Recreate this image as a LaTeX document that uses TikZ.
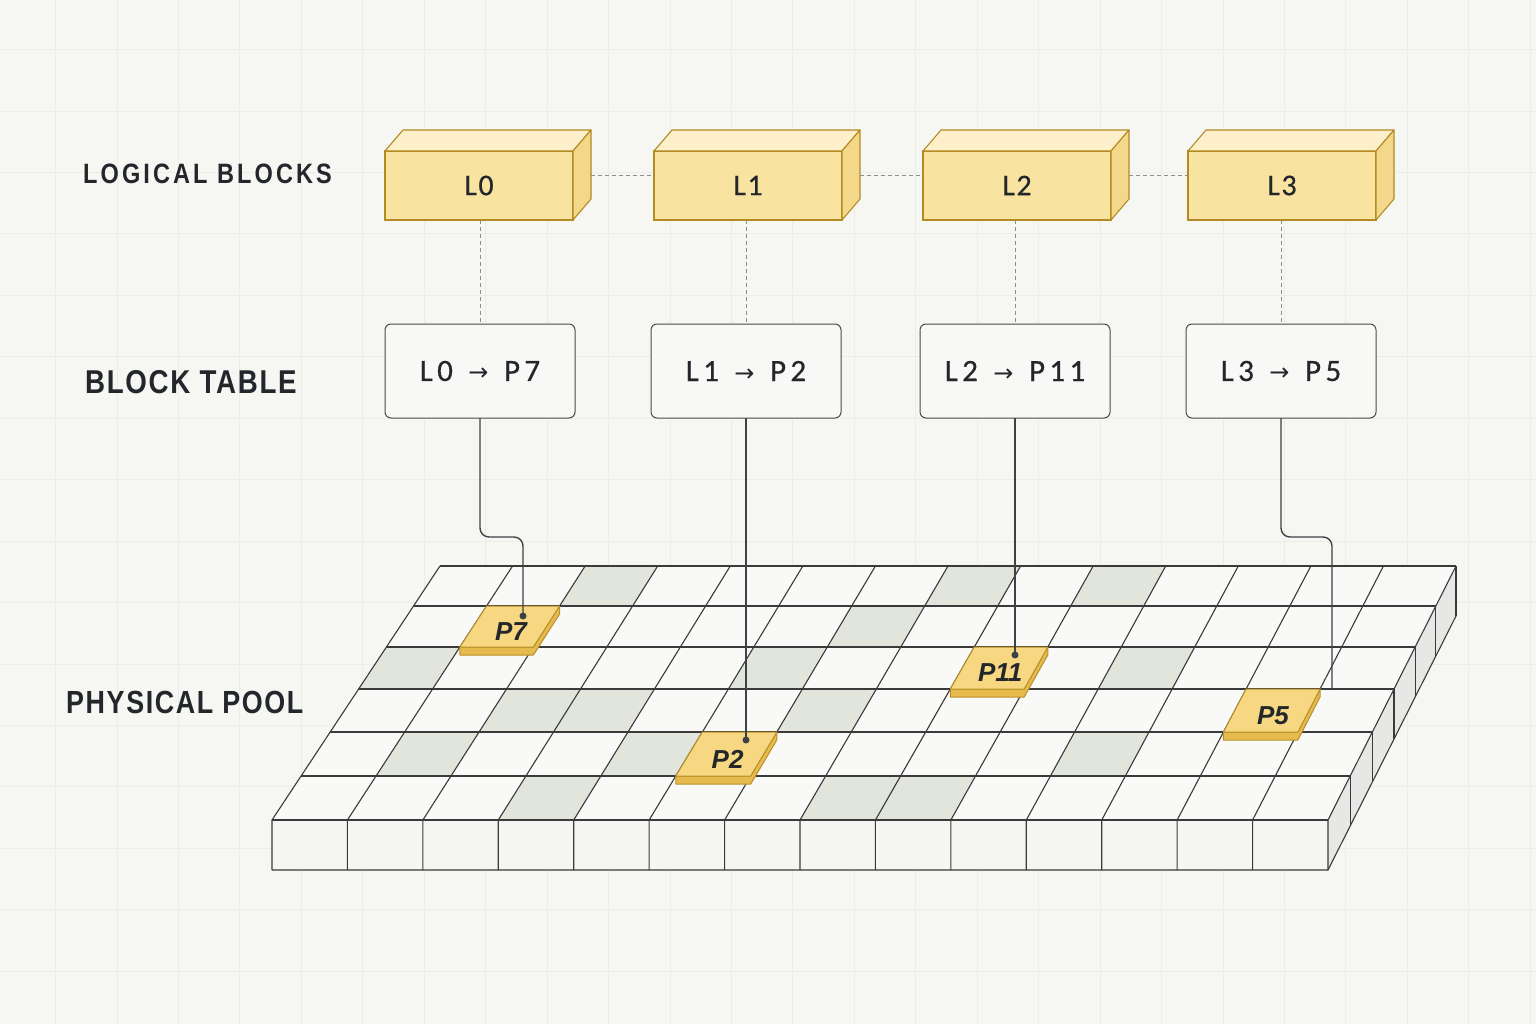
\documentclass[tikz,border=0pt]{standalone}
\usepackage{fontspec}
\usepackage{xcolor}
\usepackage{tikz}
\usetikzlibrary{calc, positioning}
\setmainfont{Liberation Sans}
\newfontfamily\headfont[FakeStretch=0.84]{Liberation Sans}
\newfontfamily\codefont[LetterSpace=14, FakeBold=0.6]{Carlito}
\newfontfamily\arrowfont{DejaVu Sans}
\definecolor{paper}{HTML}{F6F6F3}
\definecolor{paperline}{HTML}{ECECE8}
\definecolor{ink}{HTML}{23272B}
\definecolor{gridline}{HTML}{3A3A3A}
\definecolor{used}{HTML}{E1E5DB}
\definecolor{slabtop}{HTML}{F9F9F8}
\definecolor{slabfront}{HTML}{F5F5F3}
\definecolor{slabside}{HTML}{E7E7E5}
\definecolor{cubefill}{HTML}{F9E3A0}
\definecolor{cubetopfill}{HTML}{FCEFC9}
\definecolor{cubesidefill}{HTML}{F3D78A}
\definecolor{cubeedge}{HTML}{B38B22}
\definecolor{boxedge}{HTML}{4A4A4A}
\definecolor{boxfill}{HTML}{F8F8F6}
\definecolor{linkcol}{HTML}{3C4248}
\definecolor{guidecol}{HTML}{8C8C8C}
\definecolor{tilefill}{HTML}{F7D781}
\definecolor{tileside}{HTML}{E6BA4C}
\definecolor{tileedge}{HTML}{B8912A}

\tikzset{
  bggrid/.style={draw=paperline, line width=0.6pt},
  rowlabel/.style={anchor=base west, inner sep=0pt, text=ink},
  cubefront/.style={draw=cubeedge, fill=cubefill, line width=1.1pt, outer sep=0pt,
    minimum width=188pt, minimum height=69pt, text=ink,
    font=\codefont\fontsize{30}{31}\selectfont\addfontfeature{LetterSpace=5}},
  cubetop/.style={draw=cubeedge, fill=cubetopfill, line width=1.1pt, line join=round},
  cubeside/.style={draw=cubeedge, fill=cubesidefill, line width=1.1pt, line join=round},
  tablebox/.style={draw=boxedge, fill=boxfill, rounded corners=6pt, line width=1pt,
    outer sep=0pt, minimum width=190pt, minimum height=94pt, text=ink,
    font=\codefont\fontsize{31}{32}\selectfont},
  guide/.style={draw=guidecol, line width=0.9pt, dash pattern=on 4pt off 3pt},
  poolline/.style={draw=gridline, line width=1.1pt},
  tiletop/.style={draw=tileedge, fill=tilefill, line width=1pt, line join=round},
  tilethick/.style={draw=tileedge, fill=tileside, line width=1pt, line join=round},
  tilelabel/.style={inner sep=0pt, text=ink,
    font=\fontsize{26}{27}\selectfont\bfseries\itshape},
  link/.style={draw=linkcol, line width=1.4pt, rounded corners=9pt},
}

% arrow inside the table entries
\newcommand{\maps}{\hspace{0.5em}{\arrowfont\fontsize{24}{26}\selectfont →}\hspace{0.5em}}

% corner of the pool: row #1 (0..6), column #2 (0..14), named #3
\newcommand{\poolpt}[3]{%
  \pgfmathtruncatemacro\prow{#1}%
  \pgfmathsetmacro\pyy{{566,606,647,689,732,776,820}[\prow]}%
  \pgfmathsetmacro\pff{(\pyy-566)/254}%
  \pgfmathsetmacro\pxx{440-168*\pff+(#2)*(72.571+2.857*\pff)}%
  \coordinate (#3) at (\pxx,\pyy);}

% one shaded cell
\newcommand{\poolcell}[2]{%
  \poolpt{#1}{#2}{ca}\poolpt{#1}{#2+1}{cb}%
  \poolpt{#1+1}{#2+1}{cc}\poolpt{#1+1}{#2}{cd}%
  \fill[used] (ca) -- (cb) -- (cc) -- (cd) -- cycle;}

% raised physical block on a cell
\newcommand{\physblock}[4]{%
  \poolpt{#1}{#2}{#3-tl}\poolpt{#1}{#2+1}{#3-tr}%
  \poolpt{#1+1}{#2+1}{#3-br}\poolpt{#1+1}{#2}{#3-bl}%
  \filldraw[tilethick] (#3-bl) -- (#3-br) -- (#3-tr) -- ([yshift=-8pt]#3-tr)
    -- ([yshift=-8pt]#3-br) -- ([yshift=-8pt]#3-bl) -- cycle;
  \filldraw[tiletop] (#3-tl) -- (#3-tr) -- (#3-br) -- (#3-bl) -- cycle;
  \node[tilelabel] (#3) at ($(#3-tl)!0.5!(#3-br)+(1,5)$) {#4};}

% logical block drawn as a box
\newcommand{\logicalblock}[3]{%
  \node[cubefront] (#1) at (#2,185.5) {#3};
  \filldraw[cubetop] (#1.north west) -- ++(18,-21) -- ([shift={(18,-21)}]#1.north east)
    -- (#1.north east) -- cycle;
  \filldraw[cubeside] (#1.north east) -- ++(18,-21) -- ([shift={(18,-21)}]#1.south east)
    -- (#1.south east) -- cycle;}

\begin{document}
\begin{tikzpicture}[x=1pt, y=-1pt]
  \useasboundingbox (0,0) rectangle (1536,1024);
  \fill[paper] (0,0) rectangle (1536,1024);
  \foreach \i in {0,...,25} \draw[bggrid] ({\i*61.44-6},0) -- ({\i*61.44-6},1024);
  \foreach \i in {0,...,17} \draw[bggrid] (0,{\i*61.44-12}) -- (1536,{\i*61.44-12});

  % row labels
  \node[rowlabel, font=\headfont\bfseries\fontsize{28}{30}\selectfont\addfontfeature{LetterSpace=11}]
    (logical) at (83,184) {LOGICAL BLOCKS};
  \node[rowlabel, font=\headfont\bfseries\fontsize{33}{34}\selectfont\addfontfeature{LetterSpace=5}]
    (table) at (85,393) {BLOCK TABLE};
  \node[rowlabel, font=\headfont\bfseries\fontsize{32}{34}\selectfont\addfontfeature{LetterSpace=5}]
    (pool) at (66,713) {PHYSICAL POOL};

  % logical blocks
  \logicalblock{l0}{479}{L0}
  \logicalblock{l1}{748}{L1}
  \logicalblock{l2}{1017}{L2}
  \logicalblock{l3}{1282}{L3}

  % block table
  \node[tablebox] (t0) at (480,371) {L0\maps P7};
  \node[tablebox] (t1) at (746,371) {L1\maps P2};
  \node[tablebox] (t2) at (1015,371) {L2\maps P11};
  \node[tablebox] (t3) at (1281,371) {L3\maps P5};

  % dashed guides
  \draw[guide] ([shift={(18,-10)}]l0.east) -- ([yshift=10pt]l1.west);
  \draw[guide] ([shift={(18,-10)}]l1.east) -- ([yshift=10pt]l2.west);
  \draw[guide] ([shift={(18,-10)}]l2.east) -- ([yshift=10pt]l3.west);
  \draw[guide] (t0.north |- l0.south) -- (t0.north);
  \draw[guide] (t1.north |- l1.south) -- (t1.north);
  \draw[guide] (t2.north |- l2.south) -- (t2.north);
  \draw[guide] (t3.north |- l3.south) -- (t3.north);

  % physical pool slab
  \fill[slabside] (1456,566) -- (1456,616) -- (1328,870) -- (1328,820) -- cycle;
  \fill[slabfront] (272,820) rectangle (1328,870);
  \fill[slabtop] (440,566) -- (1456,566) -- (1328,820) -- (272,820) -- cycle;
  \foreach \r/\c in {0/2,0/7,0/9,1/6,2/0,2/5,2/10,3/2,3/3,3/6,4/1,4/4,4/10,5/3,5/7,5/8}
    {\poolcell{\r}{\c}}
  \foreach \r in {0,...,6} {\poolpt{\r}{0}{ra}\poolpt{\r}{14}{rb}\draw[poolline] (ra) -- (rb);}
  \foreach \c in {0,...,14} {\poolpt{0}{\c}{ca}\poolpt{6}{\c}{cb}
    \draw[poolline] (ca) -- (cb) -- ++(0,50);}
  \foreach \r in {0,...,5} {\poolpt{\r}{14}{sa}\draw[poolline] (sa) -- ++(0,50);}
  \draw[poolline, line join=round] (272,870) -- (1328,870) -- (1456,616);

  % mapped physical blocks
  \physblock{1}{1}{p7}{P7}
  \physblock{4}{5}{p2}{P2}
  \physblock{2}{8}{p11}{P11}
  \physblock{3}{12}{p5}{P5}

  % links from the table to the pool
  \coordinate (p7 pin) at (523,616);
  \coordinate (p2 pin) at (746,740);
  \coordinate (p11 pin) at (1015,655);
  \coordinate (p5 pin) at (1332,690);
  \draw[link] (t0.south) -- ++(0,119) -| (p7 pin);
  \draw[link] (t1.south) -- (p2 pin);
  \draw[link] (t2.south) -- (p11 pin);
  \draw[link] (t3.south) -- ++(0,119) -| (p5 pin);
  \fill[linkcol] (p7 pin) circle (3.5pt);
  \fill[linkcol] (p2 pin) circle (3.5pt);
  \fill[linkcol] (p11 pin) circle (3.5pt);
\end{tikzpicture}
\end{document}
